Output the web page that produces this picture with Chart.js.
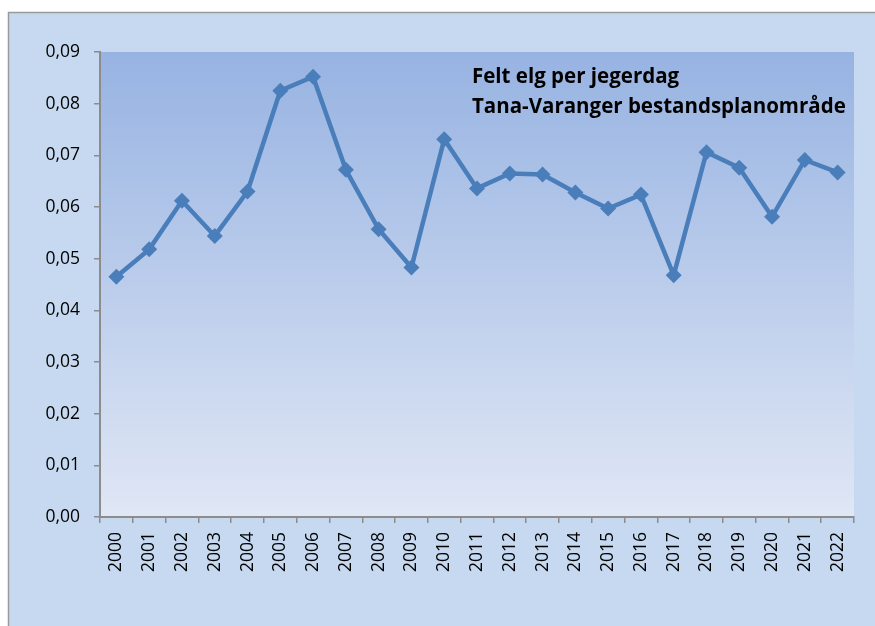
<!DOCTYPE html>
<html>
<head>
<meta charset="utf-8">
<script src="https://cdn.jsdelivr.net/npm/chart.js@4/dist/chart.umd.min.js"></script>
<style>
html,body{margin:0;padding:0;background:#fff;}
canvas{display:block;}
</style>
</head>
<body>
<canvas id="c" width="875" height="626"></canvas>
<script>
const years = ['2000','2001','2002','2003','2004','2005','2006','2007','2008','2009','2010','2011','2012','2013','2014','2015','2016','2017','2018','2019','2020','2021','2022'];
const feltPerJegerdag = [0.0465,0.0518,0.0612,0.0544,0.0630,0.0825,0.0852,0.0672,0.0557,0.0483,0.0731,0.0636,0.0665,0.0663,0.0628,0.0597,0.0624,0.0468,0.0706,0.0676,0.0581,0.0691,0.0667];
const yTickLabels = ['0,00','0,01','0,02','0,03','0,04','0,05','0,06','0,07','0,08','0,09'];
const titleLines = ['Felt elg per jegerdag','Tana-Varanger bestandsplanområde'];

const bgPlugin = {
  id: 'bg',
  beforeDraw(chart) {
    const ctx = chart.ctx, a = chart.chartArea;
    ctx.save();
    ctx.fillStyle = '#ffffff';
    ctx.fillRect(0, 0, chart.width, chart.height);
    ctx.fillStyle = '#c6d9f0';
    ctx.fillRect(8, 12, chart.width, chart.height);
    ctx.strokeStyle = '#9a9a9a';
    ctx.lineWidth = 1.5;
    ctx.beginPath();
    ctx.moveTo(8.5, chart.height + 2);
    ctx.lineTo(8.5, 12.5);
    ctx.lineTo(chart.width + 2, 12.5);
    ctx.stroke();
    const g = ctx.createLinearGradient(0, a.top, 0, a.bottom);
    g.addColorStop(0, '#97b3e2');
    g.addColorStop(1, '#e0e7f5');
    ctx.fillStyle = g;
    ctx.fillRect(a.left, a.top, a.right - a.left, a.bottom - a.top);
    ctx.restore();
  },
  afterDatasetsDraw(chart) {
    const ctx = chart.ctx;
    ctx.save();
    ctx.fillStyle = '#000';
    ctx.font = 'bold 20px "Open Sans", sans-serif';
    const w = ctx.measureText(titleLines[1]).width;
    const size = Math.min(24, Math.max(16, 20 * 374 / w));
    ctx.font = 'bold ' + size.toFixed(1) + 'px "Open Sans", sans-serif';
    ctx.textBaseline = 'alphabetic';
    ctx.textAlign = 'left';
    ctx.fillText(titleLines[0], 472, 83);
    ctx.fillText(titleLines[1], 472, 113);
    ctx.restore();
  }
};

new Chart(document.getElementById('c'), {
  type: 'line',
  data: {
    labels: years,
    datasets: [{
      data: feltPerJegerdag,
      borderColor: '#4a7ebb',
      backgroundColor: '#4a7ebb',
      borderWidth: 4.5,
      pointStyle: 'rectRot',
      pointRadius: 8,
      pointBorderWidth: 0,
      pointBackgroundColor: '#4a7ebb',
      tension: 0,
      fill: false
    }]
  },
  options: {
    responsive: false,
    animation: false,
    layout: { padding: { left: 0, top: 52, right: 21, bottom: 0 } },
    plugins: { legend: { display: false }, tooltip: { enabled: false } },
    scales: {
      x: {
        offset: true,
        grid: { display: true, offset: true, drawOnChartArea: false, drawTicks: true, tickLength: 6, color: '#8c8c8c', lineWidth: 1.5 },
        border: { display: true, color: '#8c8c8c', width: 2 },
        ticks: { color: '#000', font: { family: '"Open Sans"', size: 17.5 }, minRotation: 90, maxRotation: 90, padding: 9, autoSkip: false },
        afterFit(s) { s.height = 109; }
      },
      y: {
        min: 0, max: 0.09,
        grid: { display: true, drawOnChartArea: false, drawTicks: true, tickLength: 6, color: '#8c8c8c', lineWidth: 1.5 },
        border: { display: true, color: '#8c8c8c', width: 2 },
        ticks: { stepSize: 0.01, color: '#000', font: { family: '"Open Sans"', size: 17.5 }, padding: 14,
          callback: (v, i) => yTickLabels[i] },
        afterFit(s) { s.width = 100; }
      }
    }
  },
  plugins: [bgPlugin]
});
</script>
</body>
</html>
